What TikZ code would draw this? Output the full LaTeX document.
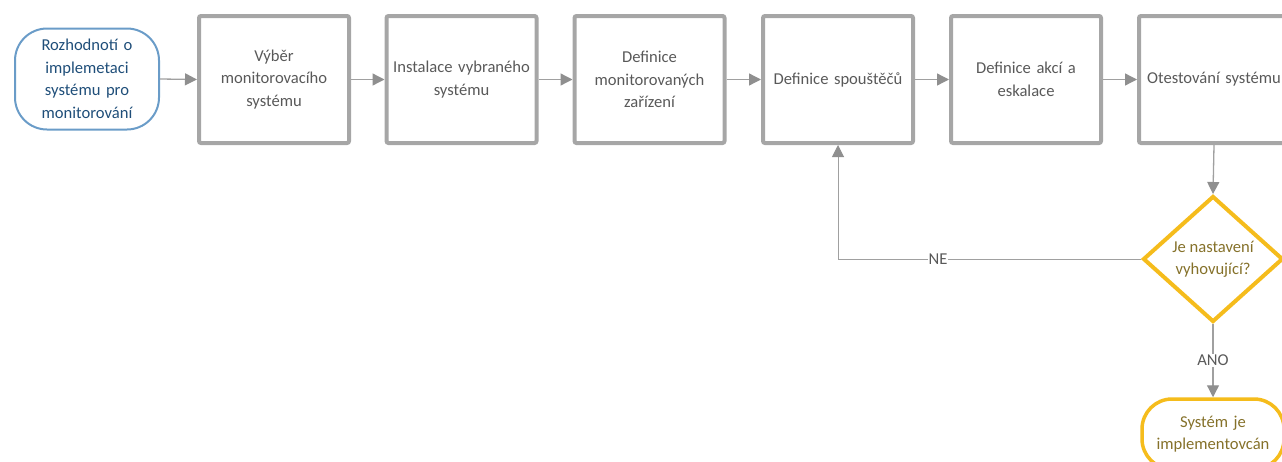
\documentclass[tikz,border=0pt]{standalone}
\usepackage{fontspec}
\setmainfont{Carlito}
\usetikzlibrary{shapes.geometric,arrows.meta}
\definecolor{boxgray}{HTML}{A6A6A6}
\definecolor{linegray}{HTML}{A0A0A0}
\definecolor{tipgray}{HTML}{8F8F8F}
\definecolor{txtgray}{HTML}{595959}
\definecolor{startblue}{HTML}{6A9CC8}
\definecolor{starttxt}{HTML}{1F4E79}
\definecolor{gold}{HTML}{F5BC1C}
\definecolor{goldtxt}{HTML}{85712A}
\begin{document}
\hyphenpenalty=10000
\exhyphenpenalty=10000
\begin{tikzpicture}[x=1pt,y=-1pt,
  every node/.style={font=\fontsize{16.6}{22.5}\selectfont},
  stepbox/.style={draw=boxgray, line width=4pt, rounded corners=2pt,
    minimum width=144pt, minimum height=127pt, text width=150pt,
    align=center, text=txtgray, inner sep=0pt},
  startbox/.style={draw=startblue, line width=2pt, rounded corners=32pt,
    minimum width=144pt, minimum height=101pt, text width=130pt,
    align=center, text=starttxt, inner sep=0pt},
  endbox/.style={draw=gold, line width=3.5pt, rounded corners=30pt,
    minimum width=142pt, minimum height=70pt, text width=130pt,
    align=center, text=goldtxt, inner sep=0pt},
  decision/.style={diamond, draw=gold, line width=4pt, inner sep=0pt,
    minimum width=140pt, minimum height=126pt, align=center, text=goldtxt},
  flow/.style={draw=linegray, line width=1.3pt,
    -{Triangle[length=12pt,width=12pt,fill=tipgray,color=tipgray]}},
  lbl/.style={fill=white, text=txtgray, inner sep=1pt}]
\useasboundingbox (0,0) rectangle (1282,461);
\clip (0,0) rectangle (1282,461);

% process steps
\node[startbox] (start) at (87,79) {Rozhodnotí o\\implemetaci\\systému pro\\monitorování};
\node[stepbox] (b1) at (274,79.5) {Výběr\\monitorovacího\\systému};
\node[stepbox] (b2) at (461.5,79.5) {Instalace vybraného\\systému};
\node[stepbox] (b3) at (649.5,79.5) {Definice\\monitorovaných\\zařízení};
\node[stepbox] (b4) at (838,79.5) {Definice spouštěčů};
\node[stepbox] (b5) at (1026,79.5) {Definice akcí a\\eskalace};
\node[stepbox] (b6) at (1214,79.5) {Otestování systému};

% check and result
\node[decision] (dia) at (1213,259) {Je nastavení\\vyhovující?};
\node[endbox] (done) at (1213,434) {Systém je\\implementovcán};

% connectors
\draw[flow] (start.east) -- (b1.west);
\draw[flow] (b1.east) -- (b2.west);
\draw[flow] (b2.east) -- (b3.west);
\draw[flow] (b3.east) -- (b4.west);
\draw[flow] (b4.east) -- (b5.west);
\draw[flow] (b5.east) -- (b6.west);
\draw[flow] (b6.south) -- (dia.north);
\draw[flow, line width=1pt] (dia.west) -| node[lbl, pos=0.335] {NE} (b4.south);
\draw[flow] (dia.south) -- node[lbl] {ANO} (done.north);
\end{tikzpicture}
\end{document}
